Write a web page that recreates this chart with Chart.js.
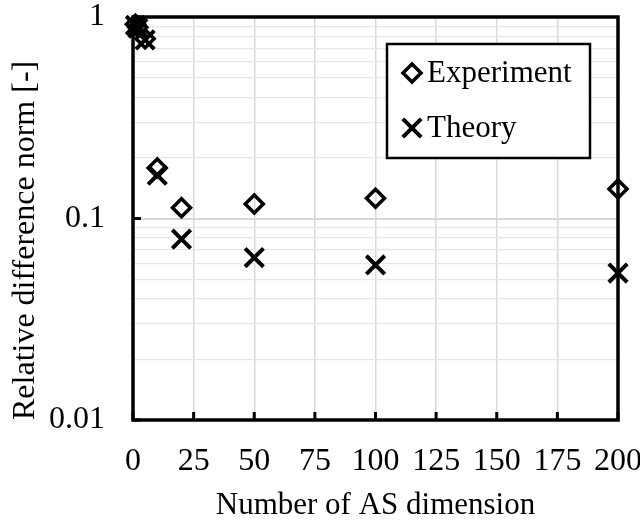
<!DOCTYPE html>
<html><head><meta charset="utf-8">
<script src="https://cdn.jsdelivr.net/npm/chart.js@4/dist/chart.umd.min.js"></script>
<style>html,body{margin:0;padding:0;background:#fff}#wrap{width:640px;height:521px}</style>
</head><body><div id="wrap"><canvas id="c" width="640" height="521"></canvas></div>
<script>
// ---- data ----
const dims = [1, 2, 5, 10, 20, 50, 100, 200];
const experiment = [0.92, 0.89, 0.78, 0.178, 0.113, 0.118, 0.126, 0.140];
const theory = [0.91, 0.88, 0.77, 0.164, 0.079, 0.064, 0.0588, 0.0536];
const seriesNames = ['Experiment', 'Theory'];
const xTickValues = [0, 25, 50, 75, 100, 125, 150, 175, 200];
const yGridValues = [0.01,0.02,0.03,0.04,0.05,0.06,0.07,0.08,0.09,0.1,0.2,0.3,0.4,0.5,0.6,0.7,0.8,0.9,1];
const yLabelValues = [0.01, 0.1, 1];
const yLabelTexts = ['0.01', '0.1', '1'];
const xTitle = 'Number of AS dimension';
const yTitle = 'Relative difference norm [-]';

const FONT = '"Liberation Serif", "Times New Roman", serif';
const tickFont = {family: FONT, size: 32};
const xTitleFont = {family: FONT, size: 31};
const yTitleFont = {family: FONT, size: 32};
const LEG_SZ = 31;

const frame = {
  id: 'frame',
  beforeDatasetsDraw(chart) {
    const {ctx, chartArea: a, scales: {x, y}} = chart;
    ctx.save();
    ctx.strokeStyle = '#000';
    ctx.lineWidth = 3;
    ctx.beginPath();
    x.ticks.forEach(t => { const px = x.getPixelForValue(t.value); ctx.moveTo(px, a.bottom); ctx.lineTo(px, a.bottom - 8); });
    yLabelValues.forEach(v => { const py = y.getPixelForValue(v); ctx.moveTo(a.left, py); ctx.lineTo(a.left + 8, py); });
    ctx.stroke();
    ctx.lineWidth = 3.5;
    ctx.strokeRect(a.left, a.top, a.right - a.left, a.bottom - a.top);
    ctx.restore();
  }
};

const legendBox = {
  id: 'legendBox',
  afterDraw(chart) {
    const {ctx, chartArea: a} = chart;
    const bx = a.right - 231, by = a.top + 27, bw = 203, bh = 114;
    ctx.save();
    ctx.fillStyle = '#fff';
    ctx.fillRect(bx, by, bw, bh);
    ctx.strokeStyle = '#000';
    ctx.lineWidth = 2.5;
    ctx.strokeRect(bx, by, bw, bh);
    chart.data.datasets.forEach((ds, i) => {
      const cy = by + 29 + i * 55;
      ctx.strokeStyle = '#000';
      ctx.fillStyle = 'rgba(0,0,0,0)';
      ctx.lineWidth = ds.pointBorderWidth;
      Chart.helpers.drawPoint(ctx, {pointStyle: ds.pointStyle, radius: ds.pointRadius, borderWidth: ds.pointBorderWidth, rotation: 0}, bx + 25, cy);
      ctx.fillStyle = '#000';
      ctx.font = LEG_SZ + 'px ' + FONT;
      ctx.textBaseline = 'middle';
      ctx.textAlign = 'left';
      ctx.fillText(ds.label, bx + 40, cy + 1);
    });
    ctx.restore();
  }
};

new Chart(document.getElementById('c'), {
  type: 'scatter',
  data: {
    datasets: [
      {label: seriesNames[0], data: dims.map((d, i) => ({x: d, y: experiment[i]})),
       pointStyle: 'rectRot', pointRadius: 9, pointBorderWidth: 3.5, borderColor: '#000',
       pointBorderColor: '#000', backgroundColor: 'rgba(0,0,0,0)', pointBackgroundColor: 'rgba(0,0,0,0)', showLine: false, clip: false},
      {label: seriesNames[1], data: dims.map((d, i) => ({x: d, y: theory[i]})),
       pointStyle: 'crossRot', pointRadius: 13, pointBorderWidth: 4, borderColor: '#000',
       pointBorderColor: '#000', backgroundColor: 'rgba(0,0,0,0)', showLine: false, clip: false}
    ]
  },
  options: {
    responsive: false,
    animation: false,
    layout: {padding: {left: 0, right: 22, top: 17, bottom: 0}},
    plugins: {legend: {display: false}, tooltip: {enabled: false}},
    scales: {
      x: {
        type: 'linear', min: 0, max: 200,
        afterBuildTicks: s => { s.ticks = xTickValues.map(v => ({value: v})); },
        ticks: {autoSkip: false, maxRotation: 0, padding: 22, font: tickFont, color: '#000', callback: v => String(v)},
        grid: {drawTicks: false, color: '#d9d9d9', lineWidth: 1.5},
        border: {display: false},
        title: {display: true, text: xTitle, font: xTitleFont, color: '#000', padding: {top: 0, bottom: -3}},
        afterFit: s => { s.height = 101; s.paddingLeft = 0; s.paddingRight = 0; }
      },
      y: {
        type: 'logarithmic', min: 0.01, max: 1,
        afterBuildTicks: s => { s.ticks = yGridValues.map(v => ({value: v})); },
        ticks: {autoSkip: false, padding: 28, font: tickFont, color: '#000',
          callback: v => { const i = yLabelValues.indexOf(v); return i >= 0 ? yLabelTexts[i] : ''; }},
        grid: {drawTicks: false,
          color: c => (c.tick && yLabelValues.includes(c.tick.value)) ? '#d9d9d9' : '#e6e6e6',
          lineWidth: c => (c.tick && yLabelValues.includes(c.tick.value)) ? 2 : 1.3},
        border: {display: false},
        title: {display: true, text: yTitle, align: 'start', font: yTitleFont, color: '#000', padding: {top: 6, bottom: 0}},
        afterFit: s => { s.width = 133; s.paddingTop = 0; s.paddingBottom = 0; }
      }
    }
  },
  plugins: [frame, legendBox]
});
</script>
</body></html>
